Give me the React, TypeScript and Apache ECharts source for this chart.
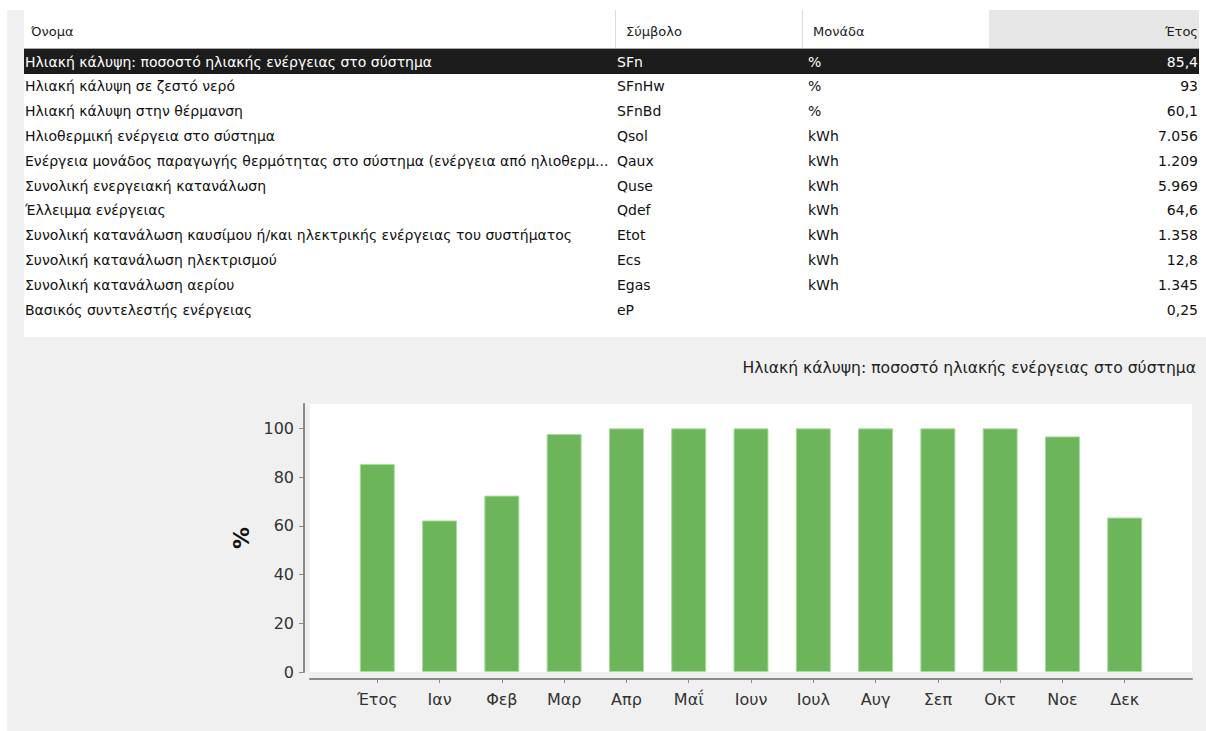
import React, { useEffect, useRef } from "react";
import * as echarts from "echarts";

const columnHeaders = ["Όνομα", "Σύμβολο", "Μονάδα", "Έτος"];
const rowNames = [
  "Ηλιακή κάλυψη: ποσοστό ηλιακής ενέργειας στο σύστημα",
  "Ηλιακή κάλυψη σε ζεστό νερό",
  "Ηλιακή κάλυψη στην θέρμανση",
  "Ηλιοθερμική ενέργεια στο σύστημα",
  "Ενέργεια μονάδος παραγωγής θερμότητας στο σύστημα (ενέργεια από ηλιοθερμ...",
  "Συνολική ενεργειακή κατανάλωση",
  "Έλλειμμα ενέργειας",
  "Συνολική κατανάλωση καυσίμου ή/και ηλεκτρικής ενέργειας του συστήματος",
  "Συνολική κατανάλωση ηλεκτρισμού",
  "Συνολική κατανάλωση αερίου",
  "Βασικός συντελεστής ενέργειας",
];
const rowSymbols = ["SFn", "SFnHw", "SFnBd", "Qsol", "Qaux", "Quse", "Qdef", "Etot", "Ecs", "Egas", "eP"];
const rowUnits = ["%", "%", "%", "kWh", "kWh", "kWh", "kWh", "kWh", "kWh", "kWh", ""];
const rowValues = ["85,4", "93", "60,1", "7.056", "1.209", "5.969", "64,6", "1.358", "12,8", "1.345", "0,25"];

const chartTitle = "Ηλιακή κάλυψη: ποσοστό ηλιακής ενέργειας στο σύστημα";
const yAxisName = "%";
const categories = ["Έτος", "Ιαν", "Φεβ", "Μαρ", "Απρ", "Μαΐ", "Ιουν", "Ιουλ", "Αυγ", "Σεπ", "Οκτ", "Νοε", "Δεκ"];
const coverage = [85.4, 62.2, 72.4, 97.7, 100, 100, 100, 100, 100, 100, 100, 96.7, 63.4];
const yTicks = [0, 20, 40, 60, 80, 100];

const TABLE_FONT = "'DejaVu Sans', sans-serif";
const CHART_FONT = "'DejaVu Sans', 'Noto Sans', sans-serif";

export default function App() {
  const ref = useRef<HTMLDivElement>(null);

  useEffect(() => {
    if (!ref.current) return;
    const chart = echarts.init(ref.current, undefined, { renderer: "svg" });

    const rowH = 24.8;
    const row0 = 61.5;
    const colX = [25, 617, 808, 1198];
    const headX = [31, 626, 813, 1198];
    const tableTexts: any[] = [];
    columnHeaders.forEach((h, i) => {
      tableTexts.push({
        type: "text",
        x: headX[i],
        y: 31.5,
        style: {
          text: h,
          font: `13px ${TABLE_FONT}`,
          fill: "#1a1a1a",
          align: i === 3 ? "right" : "left",
          verticalAlign: "middle",
        },
      });
    });
    rowNames.forEach((name, r) => {
      const cells = [name, rowSymbols[r], rowUnits[r], rowValues[r]];
      const color = r === 0 ? "#ffffff" : "#111111";
      cells.forEach((c, i) => {
        if (!c) return;
        tableTexts.push({
          type: "text",
          x: colX[i],
          y: row0 + rowH * r,
          style: {
            text: c,
            font: `14px ${TABLE_FONT}`,
            fill: color,
            align: i === 3 ? "right" : "left",
            verticalAlign: "middle",
          },
        });
      });
    });

    const option: any = {
      animation: false,
      backgroundColor: "#ffffff",
      graphic: [
        { type: "rect", z: -10, shape: { x: 7, y: 10, width: 1199, height: 721 }, style: { fill: "#f0f0f0" } },
        { type: "rect", z: -9, shape: { x: 24, y: 10, width: 1182, height: 327 }, style: { fill: "#ffffff" } },
        { type: "rect", z: -8, shape: { x: 989, y: 10, width: 210, height: 38 }, style: { fill: "#e6e6e6" } },
        { type: "line", shape: { x1: 615.5, y1: 10, x2: 615.5, y2: 48 }, style: { stroke: "#dcdcdc", lineWidth: 1 } },
        { type: "line", shape: { x1: 802.5, y1: 10, x2: 802.5, y2: 48 }, style: { stroke: "#dcdcdc", lineWidth: 1 } },
        { type: "line", shape: { x1: 24, y1: 48.5, x2: 1199, y2: 48.5 }, style: { stroke: "#a8a8a8", lineWidth: 1 } },
        { type: "rect", z: -7, shape: { x: 24, y: 49, width: 1175, height: 25 }, style: { fill: "#1c1c1c" } },
        ...tableTexts,
        {
          type: "text",
          x: 1196,
          y: 368,
          style: {
            text: chartTitle,
            font: `15.6px ${CHART_FONT}`,
            fill: "#222222",
            align: "right",
            verticalAlign: "middle",
          },
        },
      ],
      grid: {
        left: 310,
        top: 404,
        width: 882,
        height: 268,
        show: true,
        backgroundColor: "#ffffff",
        borderWidth: 0,
      },
      xAxis: {
        type: "value",
        min: -1.08,
        max: 13.08,
        offset: 7,
        splitLine: { show: false },
        axisLine: { show: true, onZero: false, lineStyle: { color: "#8a8a8a", width: 2 } },
        axisTick: {
          show: true,
          customValues: categories.map((_, i) => i),
          length: 4,
          lineStyle: { color: "#8a8a8a", width: 1 },
        },
        axisLabel: {
          customValues: categories.map((_, i) => i),
          formatter: (v: number) => categories[Math.round(v)] ?? "",
          fontSize: 16,
          fontFamily: CHART_FONT,
          color: "#333333",
          margin: 12,
        },
      },
      yAxis: {
        type: "value",
        min: 0,
        max: 110,
        offset: 6,
        name: yAxisName,
        nameLocation: "middle",
        nameGap: 52,
        nameRotate: 90,
        nameTextStyle: { fontSize: 22, fontWeight: "bold", color: "#111111", fontFamily: CHART_FONT },
        splitLine: { show: false },
        axisLine: { show: true, onZero: false, lineStyle: { color: "#8a8a8a", width: 2 } },
        axisTick: { show: true, customValues: yTicks, length: 5, lineStyle: { color: "#8a8a8a", width: 1 } },
        axisLabel: {
          customValues: yTicks,
          fontSize: 16,
          fontFamily: CHART_FONT,
          color: "#333333",
          margin: 10,
        },
      },
      series: [
        {
          type: "bar",
          data: coverage.map((v, i) => [i, v]),
          barWidth: 35,
          itemStyle: { color: "#6cb55b", borderColor: "#a8dc9c", borderWidth: 1 },
        },
      ],
    };
    chart.setOption(option);
    return () => chart.dispose();
  }, []);

  return (
    <div
      ref={ref}
      style={{ position: "absolute", left: 0, top: 0, width: 1206, height: 731 }}
    />
  );
}
